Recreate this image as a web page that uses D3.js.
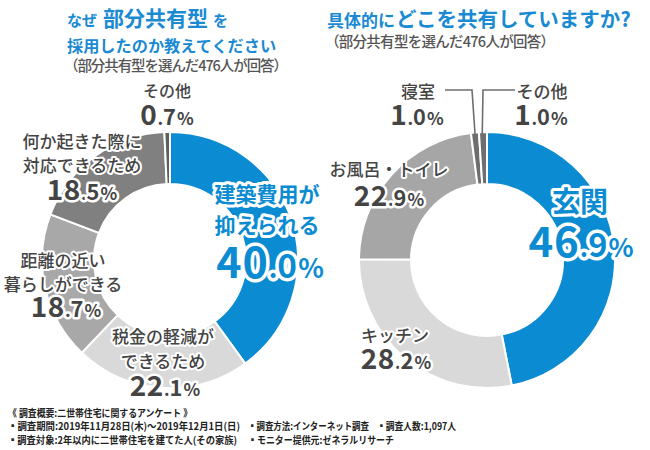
<!DOCTYPE html>
<html><head><meta charset="utf-8">
<script src="https://cdn.jsdelivr.net/npm/d3@7"></script>
<style>
html,body{margin:0;padding:0;background:#fff;}
svg{display:block;}
text{font-family:"Noto Sans CJK JP","Noto Sans",sans-serif;}
</style></head><body>
<svg id="c" width="650" height="450"></svg>
<script>
// ---- data ----
const leftCategories = ["建築費用が抑えられる","税金の軽減ができるため","距離の近い暮らしができる","何か起きた際に対応できるため","その他"];
const leftLabelLines = [["建築費用が","抑えられる"],["税金の軽減が","できるため"],["距離の近い","暮らしができる"],["何か起きた際に","対応できるため"],["その他"]];
const leftValues = [40.0, 22.1, 18.7, 18.5, 0.7];
const rightCategories = ["玄関","キッチン","お風呂・トイレ","寝室","その他"];
const rightLabelLines = [["玄関"],["キッチン"],["お風呂・トイレ"],["寝室"],["その他"]];
const rightValues = [46.9, 28.2, 22.9, 1.0, 1.0];
const footerLines = [
  ["《 調査概要:二世帯住宅に関するアンケート 》"],
  ["▪調査期間:2019年11月28日(木)～2019年12月1日(日)","▪調査方法:インターネット調査","▪調査人数:1,097人"],
  ["▪調査対象:2年以内に二世帯住宅を建てた人(その家族)","▪モニター提供元:ゼネラルリサーチ"]
];

// ---- styles / layout ----
const BLUE = "#0b8bd1", TITLE_BLUE = "#1a8ad3", LABEL = "#444444";
const leftColors = ["#0b8bd1","#d9d9d9","#a8a8a8","#808080","#5e5e5e"];
const rightColors = ["#0b8bd1","#d9d9d9","#a6a6a6","#6e6e6e","#6e6e6e"];

const svg = d3.select("#c");
const pie = d3.pie().sort(null).value(d => d);
const arc = d3.arc().innerRadius(76).outerRadius(128);

function donut(cx, cy, values, colors){
  const g = svg.append("g").attr("transform",`translate(${cx},${cy})`);
  g.selectAll("path").data(pie(values)).join("path")
    .attr("d", arc).attr("fill",(d,i)=>colors[i])
    .attr("stroke","#fff").attr("stroke-width",2);
}
donut(170, 260, leftValues, leftColors);
donut(487, 260, rightValues, rightColors);

// leader lines for right small slices
const lines = svg.append("g").attr("fill","none").attr("stroke","#6e6e6e").attr("stroke-width",1.6);
lines.append("polyline").attr("points","445,90 472,90 476,148");
lines.append("polyline").attr("points","515,90 483,90 482,148");

function halo(sel, w){
  return sel.attr("stroke","#fff").attr("stroke-width",w).attr("stroke-linejoin","round").attr("paint-order","stroke");
}

function catLabel(lines, cx, cy, size, color, lh, weight){
  lines.forEach((t,i)=>{
    halo(svg.append("text"), size>20?6:4)
      .attr("x",cx).attr("y",cy+i*lh)
      .attr("text-anchor","middle").attr("dominant-baseline","central")
      .attr("font-size",size).attr("font-weight",weight||500)
      .attr("fill",color).text(t);
  });
}
function numLabel(v, cx, by, S, color){
  const s = v.toFixed(1).split(".");
  const t = halo(svg.append("text"), S>32?7:5).attr("x",cx).attr("y",by).attr("text-anchor","middle")
    .attr("fill",color).attr("font-family","'Open Sans','Noto Sans',sans-serif").attr("font-weight",600);
  t.append("tspan").attr("font-size",S).attr("letter-spacing",S*0.02).text(s[0]);
  t.append("tspan").attr("font-size",S*0.62).text(".");
  t.append("tspan").attr("font-size",S*0.78).text(s[1]);
  t.append("tspan").attr("font-size",S*0.62).attr("dx",1).text("%");
}

// left labels
const leftPos = [
  {cx:267, cy:193, n:[270,278], size:21, lh:31, S:43, color:BLUE, w:700},
  {cx:163, cy:335, n:[165,396], size:17, lh:25, S:28, color:LABEL},
  {cx:63,  cy:259.5, n:[66,317], size:17, lh:23.5, S:28, color:LABEL},
  {cx:82,  cy:140.5, n:[82,200], size:17, lh:24, S:28, color:LABEL},
  {cx:167, cy:90, n:[167,125], size:16, lh:24, S:28, color:LABEL}
];
leftValues.forEach((v,i)=>{
  const p = leftPos[i];
  catLabel(leftLabelLines[i], p.cx, p.cy, p.size, p.color, p.lh, p.w);
  numLabel(v, p.n[0], p.n[1], p.S, p.color);
});
// right labels
const rightPos = [
  {cx:580, cy:200, n:[581,257], size:28, lh:30, S:42, color:BLUE, w:700},
  {cx:395, cy:334.5, n:[396,369], size:17, lh:24, S:28, color:LABEL},
  {cx:389, cy:168.5, n:[389,206], size:17, lh:24, S:28, color:LABEL},
  {cx:418, cy:90.5, n:[417,125], size:17, lh:24, S:28, color:LABEL},
  {cx:542, cy:90.5, n:[541,125], size:17, lh:24, S:28, color:LABEL}
];
rightValues.forEach((v,i)=>{
  const p = rightPos[i];
  catLabel(rightLabelLines[i], p.cx, p.cy, p.size, p.color, p.lh, p.w);
  numLabel(v, p.n[0], p.n[1], p.S, p.color);
});

// titles
const t1 = svg.append("text").attr("x",67).attr("y",26).attr("fill",TITLE_BLUE).attr("font-weight",700);
t1.append("tspan").attr("font-size",15).text("なぜ");
t1.append("tspan").attr("font-size",21).attr("dx",6).text("部分共有型");
t1.append("tspan").attr("font-size",15).attr("dx",5).text("を");
svg.append("text").attr("x",67).attr("y",52).attr("fill",TITLE_BLUE).attr("font-weight",700)
  .attr("font-size",16.2).text("採用したのか教えてください");
svg.append("text").attr("x",64).attr("y",71).attr("fill","#555").attr("font-weight",500)
  .attr("font-size",14.5).attr("textLength",224).text("（部分共有型を選んだ476人が回答）");

const t2 = svg.append("text").attr("x",327).attr("y",27).attr("fill",TITLE_BLUE).attr("font-weight",700);
t2.append("tspan").attr("font-size",17).text("具体的に");
t2.append("tspan").attr("font-size",20.5).attr("dx",1).text("どこを共有していますか?");
svg.append("text").attr("x",325).attr("y",46.5).attr("fill","#555").attr("font-weight",500)
  .attr("font-size",14.5).attr("textLength",230).text("（部分共有型を選んだ476人が回答）");

// footer
const footX = [[8],[8,248,377],[8,248]];
const footW = [[184],[232,121,79],[229,146]];
const footY = [412, 425.5, 439];
footerLines.forEach((row,r)=>{
  row.forEach((t,k)=>{
    svg.append("text").attr("x",footX[r][k]).attr("y",footY[r]).attr("dominant-baseline","central")
      .attr("font-size",10).attr("font-weight",700).attr("fill","#222")
      .attr("textLength",footW[r][k]).attr("lengthAdjust","spacingAndGlyphs").text(t);
  });
});
</script>
</body></html>
